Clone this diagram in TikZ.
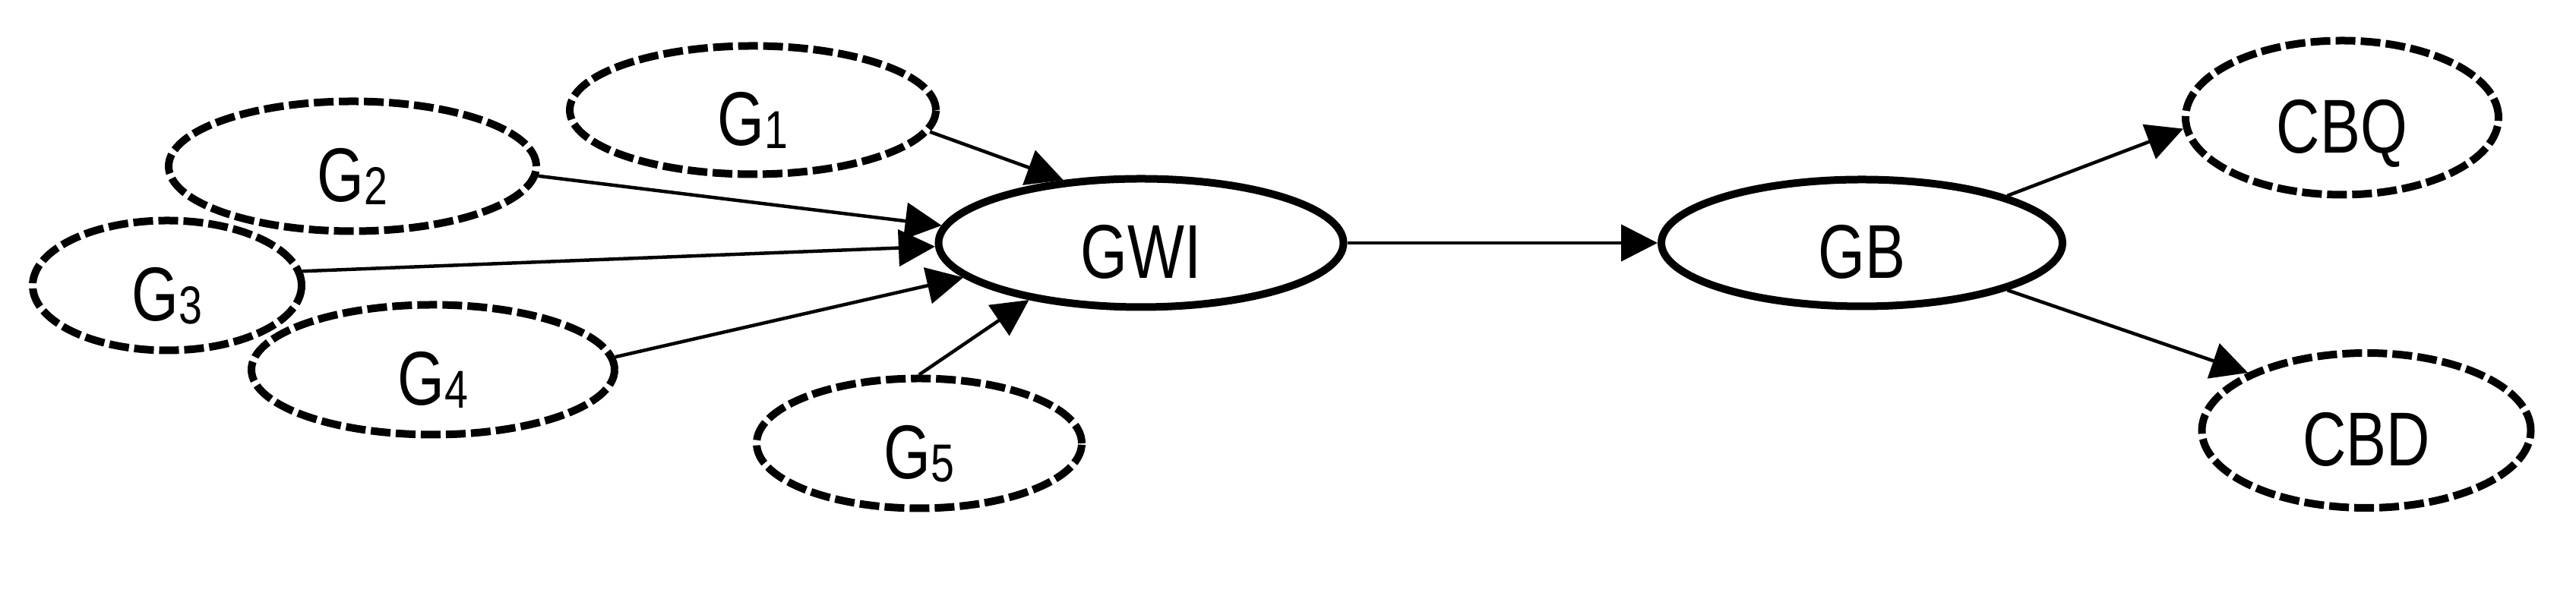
\documentclass[tikz,border=0pt]{standalone}
\usepackage{fontspec}
\setmainfont{Liberation Sans}[FakeStretch=0.79]
\usepackage{tikz}
\usetikzlibrary{shapes.geometric}
\usetikzlibrary{arrows.meta}
\usetikzlibrary{positioning}

\newcommand{\gsub}[1]{\raisebox{-0.04cm}{\fontsize{20pt}{20pt}\selectfont #1}}

\begin{document}
\begin{tikzpicture}[on grid, inner sep=0pt,
  font=\fontsize{28.6pt}{30pt}\selectfont,
  goal/.style={ellipse, draw, line width=0.1cm, dash pattern=on 0.26cm off 0.07cm,
               minimum height=1.71cm, text height=0.94cm, text depth=0pt},
  core/.style={ellipse, draw, line width=0.1cm,
               minimum height=1.69cm, text height=0.94cm, text depth=0pt},
  link/.style={line width=0.045cm, -{Triangle[length=0.48cm,width=0.48cm]}}]

\useasboundingbox (0,0) rectangle (33.91,7.89);

\node [core, minimum width=5.33cm] (GWI) at (15.02,4.69) {GWI};
\node [goal, minimum width=4.82cm, minimum height=1.69cm] (G1) [above left=1.75cm and 5.11cm of GWI] {G\gsub{1}};
\node [goal, minimum width=4.84cm] (G2) [above left=1.01cm and 10.38cm of GWI] {G\gsub{2}};
\node [goal, minimum width=3.54cm] (G3) [below left=0.56cm and 12.82cm of GWI] {G\gsub{3}};
\node [goal, minimum width=4.78cm] (G4) [below left=1.67cm and 9.32cm of GWI] {G\gsub{4}};
\node [goal, minimum width=4.28cm] (G5) [below left=2.64cm and 2.92cm of GWI] {G\gsub{5}};
\node [core, minimum width=5.28cm, minimum height=1.67cm] (GB) [right=9.49cm of GWI] {GB};
\node [goal, minimum width=4.12cm, minimum height=2.03cm] (CBQ) [above right=1.65cm and 6.32cm of GB] {CBQ};
\node [goal, minimum width=4.33cm, minimum height=2.04cm] (CBD) [below right=2.47cm and 6.64cm of GB] {CBD};

\path [link]
      (G1.-7) edge (GWI.141)
      (G2.-3) edge (GWI.175)
      (G3.6) edge (GWI.181)
      (G4.4) edge (GWI.191)
      (G5.north) edge (GWI.207)
      (GWI.east) edge (GB.west)
      (GB.18) edge (CBQ.184)
      (GB.-18) edge (CBD.154)
      ;

\end{tikzpicture}
\end{document}
